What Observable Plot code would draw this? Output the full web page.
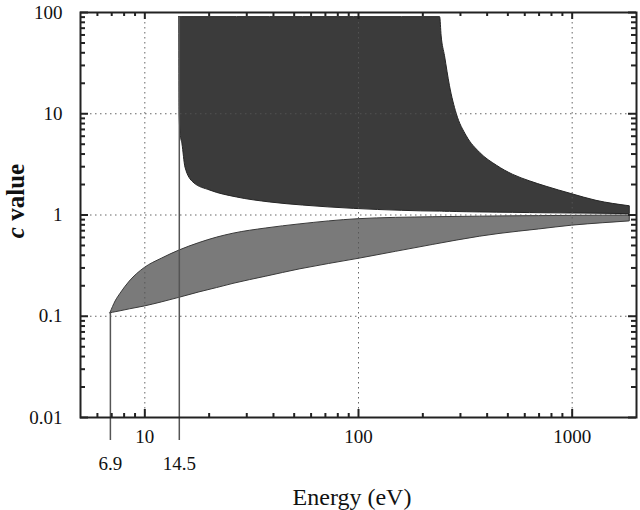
<!DOCTYPE html>
<html><head><meta charset="utf-8">
<script src="https://cdn.jsdelivr.net/npm/d3@7"></script>
<script src="https://cdn.jsdelivr.net/npm/@observablehq/plot@0.6"></script>
<style>body{margin:0;background:#fff} svg{display:block}</style>
</head><body><div id="chart"></div>
<script>
// ---- axis domains, tick values / labels ----
const xDomain = [5, 2000];
const yDomain = [0.01, 100];
const xMajor = [10, 100, 1000];
const xMajorLabels = ["10", "100", "1000"];
const xMinor = [6, 7, 8, 9, 20, 30, 40, 50, 60, 70, 80, 90, 200, 300, 400, 500, 600, 700, 800, 900];
const yMajor = [0.01, 0.1, 1, 10, 100];
const yMajorLabels = ["0.01", "0.1", "1", "10", "100"];
const yGrid = [0.1, 1, 10];
const yMinor = [0.02, 0.03, 0.04, 0.05, 0.06, 0.07, 0.08, 0.09,
                0.2, 0.3, 0.4, 0.5, 0.6, 0.7, 0.8, 0.9,
                2, 3, 4, 5, 6, 7, 8, 9,
                20, 30, 40, 50, 60, 70, 80, 90];

// ---- threshold energies (vertical lines) ----
const thresholds = [6.9, 14.5];
const thresholdLabels = ["6.9", "14.5"];
const thresholdTop = [0.107, 90];

// ---- dark region (upper allowed range) ----
const darkEnergy = [14.5, 14.55, 14.7, 15, 15.5, 16.9, 20.3, 27, 38.6, 55, 95, 160, 241, 245, 254, 268, 288, 321, 371, 445, 530, 634, 759, 993, 1300, 1860];
const darkLower  = [90, 10, 6.3, 5.0, 2.94, 2.09, 1.74, 1.49, 1.33, 1.24, 1.15, 1.1, 1.08, 1.08, 1.075, 1.075, 1.07, 1.065, 1.06, 1.055, 1.05, 1.045, 1.04, 1.035, 1.03, 1.02];
const darkUpper  = [90, 90, 90, 90, 90, 90, 90, 90, 90, 90, 90, 90, 90, 58, 37, 18.7, 10, 6.0, 4.1, 3.06, 2.49, 2.15, 1.90, 1.61, 1.38, 1.22];

// ---- light band (lower allowed range) ----
const lightEnergy = [6.9, 7.3, 7.7, 8.5, 10, 12, 14.5, 18, 21.8, 26, 37, 53, 100, 224, 371, 457, 700, 1000, 1400, 1860];
const lightUpper  = [0.107, 0.14, 0.167, 0.22, 0.30, 0.37, 0.445, 0.528, 0.598, 0.654, 0.736, 0.807, 0.909, 0.951, 0.963, 0.968, 0.975, 0.98, 0.985, 0.99];
const lightLower  = [0.107, 0.1096, 0.112, 0.117, 0.125, 0.137, 0.152, 0.172, 0.190, 0.209, 0.246, 0.29, 0.369, 0.507, 0.611, 0.65, 0.72, 0.785, 0.83, 0.865];

const dark = darkEnergy.map((e, i) => ({e, lo: darkLower[i], hi: darkUpper[i]}));
const light = lightEnergy.map((e, i) => ({e, lo: lightLower[i], hi: lightUpper[i]}));
const th = thresholds.map((e, i) => ({e, top: thresholdTop[i], label: thresholdLabels[i]}));

const serif = "'Liberation Serif', 'DejaVu Serif', serif";
const grid = {stroke: "#555", strokeWidth: 1, strokeDasharray: "1.5,3.5", strokeOpacity: 0.9};
const tk = {stroke: "#222", strokeWidth: 2};
const txt = {fontFamily: serif, fontSize: 19, fill: "#111"};

const chart = Plot.plot({
  width: 640, height: 510,
  marginLeft: 80, marginRight: 4, marginTop: 12, marginBottom: 93,
  style: {fontFamily: serif, fontSize: "19px", color: "#111", background: "#fff"},
  x: {type: "log", domain: xDomain, axis: null},
  y: {type: "log", domain: yDomain, axis: null},
  marks: [
    Plot.areaY(dark, {x: "e", y1: "lo", y2: "hi", fill: "#3b3b3b", stroke: "#252525", strokeWidth: 1, curve: "monotone-x"}),
    Plot.areaY(light, {x: "e", y1: "lo", y2: "hi", fill: "#7a7a7a", stroke: "#3a3a3a", strokeWidth: 1, curve: "monotone-x"}),
    Plot.ruleX(xMajor, {x: d => d, ...grid}),
    Plot.ruleY(yGrid, {y: d => d, ...grid}),
    Plot.ruleX(th, {x: "e", y1: "top", y2: yDomain[0], insetBottom: -23, stroke: "#555", strokeWidth: 1.5}),
    Plot.frame({stroke: "#222", strokeWidth: 2}),
    // inward tick marks: left / right
    Plot.ruleY(yMajor, {y: d => d, x1: xDomain[0], x2: xDomain[0], insetRight: -8, ...tk}),
    Plot.ruleY(yMinor, {y: d => d, x1: xDomain[0], x2: xDomain[0], insetRight: -5, ...tk}),
    Plot.ruleY(yMajor, {y: d => d, x1: xDomain[1], x2: xDomain[1], insetLeft: -8, ...tk}),
    Plot.ruleY(yMinor, {y: d => d, x1: xDomain[1], x2: xDomain[1], insetLeft: -5, ...tk}),
    // inward tick marks: bottom / top
    Plot.ruleX(xMajor, {x: d => d, y1: yDomain[0], y2: yDomain[0], insetTop: -8, ...tk}),
    Plot.ruleX(xMinor, {x: d => d, y1: yDomain[0], y2: yDomain[0], insetTop: -4, ...tk}),
    Plot.ruleX(xMajor, {x: d => d, y1: yDomain[1], y2: yDomain[1], insetBottom: -7, ...tk}),
    Plot.ruleX(xMinor, {x: d => d, y1: yDomain[1], y2: yDomain[1], insetBottom: -4, ...tk}),
    // tick labels
    Plot.text(yMajor, {y: d => d, text: (d, i) => yMajorLabels[i], frameAnchor: "left", dx: -18, textAnchor: "end", ...txt}),
    Plot.text(xMajor, {x: d => d, text: (d, i) => xMajorLabels[i], frameAnchor: "bottom", dy: 12, lineAnchor: "top", ...txt}),
    Plot.text(th, {x: "e", text: "label", frameAnchor: "bottom", dy: 39, lineAnchor: "top", ...txt})
  ]
});

const svg = d3.select(chart);
svg.append("text")
  .attr("x", 352).attr("y", 505)
  .attr("text-anchor", "middle")
  .attr("font-family", serif)
  .attr("font-size", 24)
  .attr("fill", "#111")
  .text("Energy (eV)");
const yl = svg.append("text")
  .attr("transform", "translate(24,201) rotate(-90)")
  .attr("text-anchor", "middle")
  .attr("font-family", serif)
  .attr("font-size", 25)
  .attr("font-weight", "bold")
  .attr("fill", "#111");
yl.append("tspan").attr("font-style", "italic").text("c");
yl.append("tspan").text(" value");

document.getElementById("chart").appendChild(chart);
</script>
</body></html>
